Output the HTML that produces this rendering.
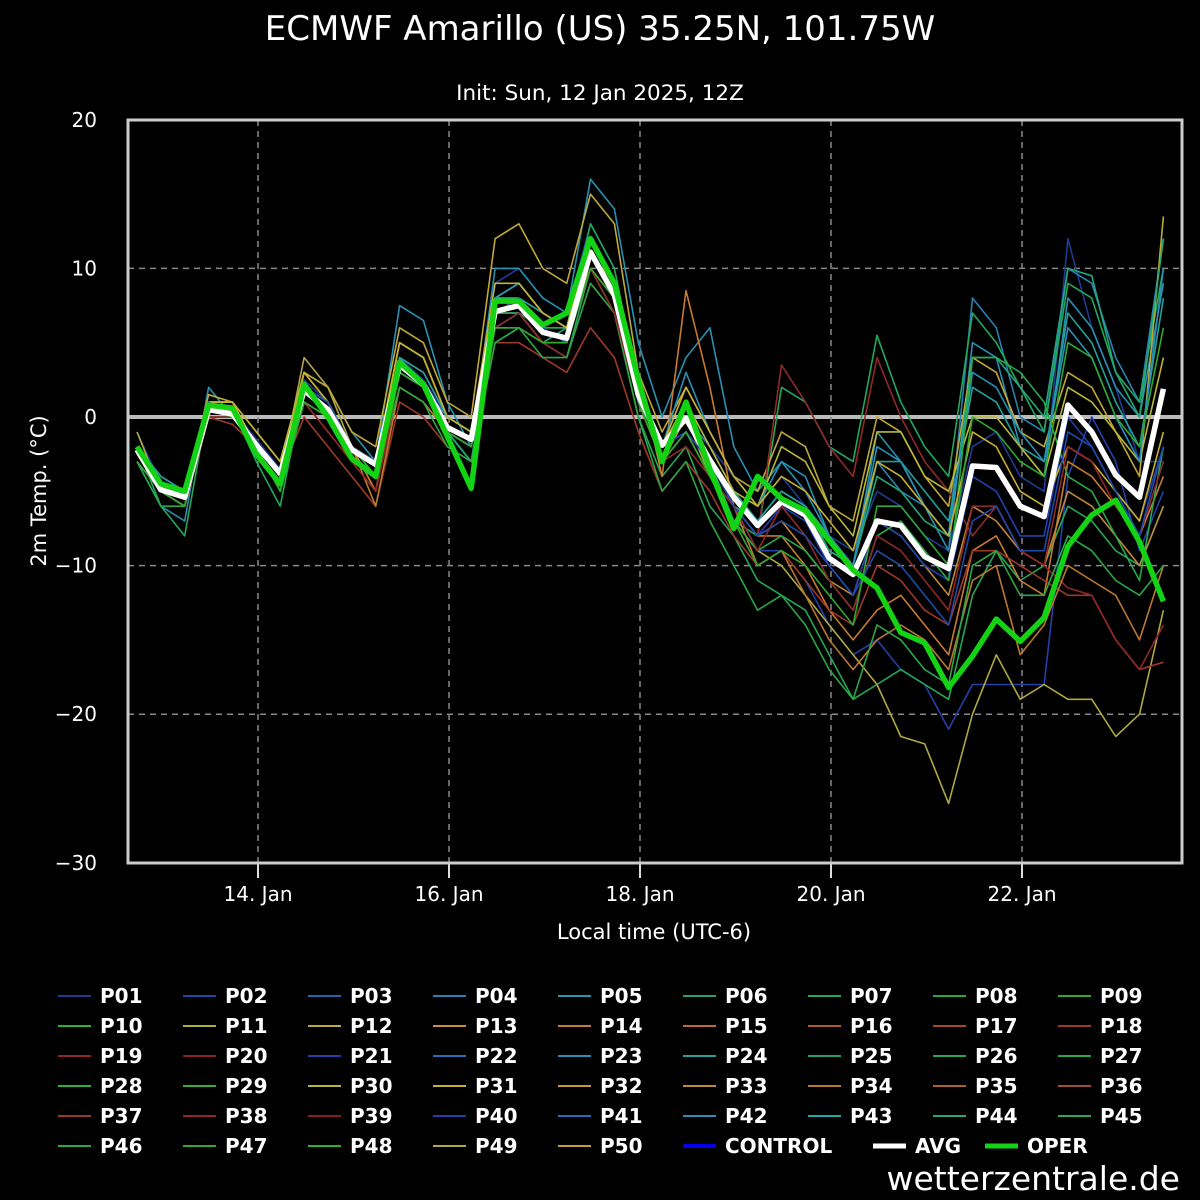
<!DOCTYPE html>
<html><head><meta charset="utf-8"><style>
html,body{margin:0;padding:0;background:#000;}
svg{display:block;font-family:"DejaVu Sans","Liberation Sans",sans-serif;}
</style></head><body>
<svg id="c" width="1200" height="1200" viewBox="0 0 1200 1200">
<rect width="1200" height="1200" fill="#000"/>
<text x="600" y="40" font-size="34" fill="#fff" text-anchor="middle">ECMWF Amarillo (US) 35.25N, 101.75W</text>
<text x="600" y="100" font-size="21.5" fill="#fff" text-anchor="middle">Init: Sun, 12 Jan 2025, 12Z</text>
<text transform="translate(46,491) rotate(-90)" font-size="21" fill="#fff" text-anchor="middle">2m Temp. (°C)</text>
<text x="654" y="939" font-size="21" fill="#fff" text-anchor="middle">Local time (UTC-6)</text>
<text x="1180" y="1190" font-size="33" fill="#fff" text-anchor="end">wetterzentrale.de</text>
<g id="grid"></g><g id="series"></g><g id="axes"></g><g id="legend"></g>
</svg>
<script>
const yTicks=[20,10,0,-10,-20,-30];
const xTickLabels=["14. Jan","16. Jan","18. Jan","20. Jan","22. Jan"];
const avg=[-2.2,-4.9,-5.4,0.5,0.2,-1.9,-3.8,1.8,0.5,-2.2,-3.2,3.5,2.2,-0.7,-1.5,7.1,7.5,5.7,5.3,11.1,8.2,1.5,-1.9,-0.1,-2.9,-5.4,-7.3,-5.7,-6.6,-9.5,-10.6,-7.0,-7.3,-9.4,-10.2,-3.3,-3.4,-6.0,-6.7,0.8,-1.0,-3.9,-5.4,1.9];
const oper=[-2,-4.5,-5,0.8,0.6,-2.5,-4.5,2.2,0,-2.8,-4,3.7,2.2,-1.3,-4.8,7.8,7.8,6.2,7.0,12.0,9,2.5,-3,1,-3.5,-7.5,-4,-5.5,-6.3,-8.3,-10.3,-11.5,-14.5,-15.2,-18.2,-16.1,-13.6,-15.1,-13.5,-8.7,-6.6,-5.6,-8.4,-12.4];
const m01=[-1,-4.5,-5,1,0.5,-1.5,-3.5,2.5,1,-2,-3,4,2.5,0,-1,9,10,8,7,13,10,2,-2,1,-2,-4,-6,-4,-6,-8,-9,-5,-6,-8,-9,-2,-1,-4,-5,12,6,2,-3,-3];
const m02=[-3,-5,-6,0,0,-2,-4,1,0,-3,-4,3,2,-1,-2,6,7,5,5,11,8,1,-2,-1,-3,-6,-9,-9,-11,-14,-16,-15,-17,-18,-21,-18,-18,-18,-18,-4,0,-3,-9,-5];
const m03=[-2,-5,-6,1,0,-2,-4,2,1,-2,-3,3,2,-1,-2,8,8,6,6,12,9,2,-2,0,-2,-5,-7,-5,-6,-9,-10,-3,-5,-6,-8,8,6,0,-1,10,9,4,1,12];
const m04=[-3,-6,-7,2,0,-2,-4,3,2,-1,-3,7.5,6.5,1,-2,10,10,8,7,16,14,5,0,4,6,-2,-5,-3,-4,-8,-10,-1,-3,-6,-9,5,4,-2,-4,8,6,2,0,9];
const m05=[-2,-6,-8,1,0.5,-3,-6,2,1,-2,-5,3,2,-1,-3,7,8,6,6,13,10,2,-3,1,-3,-7,-8,2,1,-2,-3,5.5,1,-2,-4,7,5,2,-1,9,8,3,1,10];
const m06=[-2,-5,-6,0,0,-2,-5,2,0,-2,-4,3,2,-1,-3,6,6,5,4,10,7,0,-4,-2,-6,-8,-11,-12,-13,-16,-19,-18,-17,-18,-19,-12,-9,-11,-10,-6,-7,-9,-10,-6];
const m07=[-1,-5,-6,1,1,-2,-4,4,2,-2,-3,5,4,0,-1,8,9,7,6,12,9,2,-3,0,-4,-7,-9,-10,-12,-14,-16,-18,-21.5,-22,-26,-20,-16,-19,-18,-19,-19,-21.5,-20,-13];
const m08=[-2,-4,-5,1.5,1,-1,-3,3,2,-1,-2,6,5,1,0,12,13,10,9,15,13,3,-1,2,-1,-4,-5,-1,-2,-6,-7,0,-1,-4,-6,4,3,-1,-2,3,2,-1,-4,13.5];
const m09=[-3,-5,-6,1,0,-2,-4,2,1,-2,-5,4,3,0,-1,7,7,6,5,11,9,3,-4,8.5,2,-6,-8,-8,-10,-13,-15,-13,-12,-14,-16,-9,-8,-11,-12,-3,-4,-6,-8,-4];
const m10=[-3,-5,-6,0,-0.5,-2,-4,0,-2,-4,-6,1,0,-2,-3,5,5,4,3,6,4,-1,-5,-3,-5,-8,-10,-9,-11,-13,-14,-10,-11,-13,-14,-9,-9,-10,-11,-12,-12,-15,-17,-16.5];
const m11=[-2,-5,-6,0,0,-2,-4,1,-1,-3,-5,2,1,-1,-2,5,6,5,4,9,7,1,-3,-2,-4,-6,-8,3.5,1,-2,-4,4,0,-3,-5,-8,-6,-9,-10,-11.5,-12,-15,-17,-14];
const m12=[-2,-5,-6,1,1,-2,-4,2,1,-2,-6,2,1,-1,-2,7,8,7,6,10,8,1,-2,0,-3,-6,-10,-9,-12,-15,-17,-15,-14,-15,-17,-11,-10,-16,-14,-10,-11,-12,-15,-10];
const m13=[-2,-5,-6,0.5,0,-2,-5,1,0,-2,-4,3,2,-1,-3,6,7,5,6,12,9,1,-3,-1,-4,-6,-7,-5,-6,-9,-10,-4,-5,-7,-8,4,4,2,0,10,9.5,3,0,12];
const m14=[-2,-5,-6,1,0,-2,-4,2,1,-2,-3,4,3,0,-1,8,8,7,6,12,9,2,-2,0,-3,-5,-7,-5,-6,-8,-10,-3,-3,-5,-7,2,1,-2,-3,7,5,1,-2,8];
const m15=[-2,-5,-5,1,1,-1,-3,3,1,-2,-3,5,4,0,-1,8,9,7,6,11,8,2,-2,1,-2,-5,-6,-2,-3,-6,-8,-1,-1,-4,-5,0,0,-2,-4,2,1,-1,-3,4];
const m16=[-2,-5,-6,0.5,0,-2,-4,2,0,-3,-4,3,2,-1,-2,7,7,5,5,10,8,1,-3,0,-3,-6,-8,-7,-9,-11,-12,-7,-8,-10,-12,-6,-7,-9,-10,-5,-6,-8,-10,-6];
const m17=[-2,-5,-6,0,0,-2,-4,2,0,-2,-3,3,2,-1,-2,7,7,6,5,11,8,1,-2,-1,-3,-6,-8,-6,-7,-10,-12,-7,-8,-10,-11,-4,-5,-8,-8,0,-2,-5,-7,-2];
const m18=[-3,-6,-6,0,0,-2,-5,1,0,-3,-4,2,1,-2,-3,5,6,4,4,9,7,0,-5,-3,-7,-10,-13,-12,-14,-17,-19,-14,-15,-17,-18,-10,-9,-12,-12,-8,-9,-11,-12,-10];
const m19=[-2,-4,-5,1,0,-2,-4,2,1,-2,-4,4,2,0,-1,8,9,7,6,12,9,2,-2,3,-1,-4,-6,-3,-5,-8,-10,-2,-3,-6,-8,3,2,-1,-3,6,4,0,-3,10];
const m20=[-2,-5,-6,0.5,0,-2,-5,2,0,-2,-4,3,2,-1,-2,7,7,6,5,11,8,2,-3,-1,-4,-7,-9,-8,-9,-11,-13,-8,-7,-9,-11,4,4,3,1,-4,-5,-8,-11,-2];
const m21=[-2,-5,-6,1,1,-2,-4,3,1,-2,-3,5,4,0,-1,9,9,7,6,12,9,2,-2,2,-1,-4,-6,-4,-5,-7,-9,-3,-4,-6,-8,-1,-2,-5,-6,-2,-3,-5,-7,-1];
const m22=[-2,-5,-6,0,0,-2,-4,1,-1,-3,-5,3,2,-1,-2,6,7,5,5,10,7,1,-3,-1,-4,-6,-9,-6,-8,-11,-13,-8,-9,-11,-13,-6,-6,-9,-10,-2,-3,-6,-8,-3];
const m23=[-2,-5,-5,1,0,-2,-4,2,1,-2,-3,3,2,-1,-2,7,8,6,5,11,8,1,-2,0,-3,-6,-8,-7,-8,-10,-12,-9,-10,-12,-14,-7,-6,-9,-9,-1,-2,-5,-8,-2];
const m24=[-3,-5,-6,0.5,0,-2,-5,1,0,-2,-4,3,2,-1,-2,6,6,5,5,10,8,1,-3,-1,-4,-7,-10,-9,-10,-12,-14,-6,-6,-8,-10,0,-1,-3,-4,5,4,0,-2,6];
const members=[m01,m02,m03,m04,m05,m06,m07,m08,m09,m10,m11,m12,m13,m14,m15,m16,m17,m18,m19,m20,m21,m22,m23,m24];
const memberNames=["P01","P21","P04","P23","P07","P26","P49","P12","P14","P18","P38","P34","P44","P24","P30","P33","P40","P46","P42","P27","P31","P19","P02","P09"];

const NS="http://www.w3.org/2000/svg";
const X0=137, DX=23.87;
const px=i=>X0+i*DX;
const py=v=>417-v*14.86;
function mk(tag,attrs,parent){const e=document.createElementNS(NS,tag);for(const k in attrs)e.setAttribute(k,attrs[k]);parent.appendChild(e);return e;}
const grid=document.getElementById('grid'),series=document.getElementById('series'),axes=document.getElementById('axes'),legend=document.getElementById('legend');

yTicks.forEach(v=>{
  if(v!==20&&v!==-30){const l=mk('line',{x1:128,x2:1182,y1:py(v),y2:py(v),stroke:'#888','stroke-width':1.5,'stroke-dasharray':'6,5'},grid);
  
  }
  const t=mk('text',{x:97,y:py(v)+7,'font-size':20,fill:'#fff','text-anchor':'end'},axes);t.textContent=v<0?'\u2212'+(-v):String(v);
  
  
});
const z=mk('line',{x1:128,x2:1182,y1:py(0),y2:py(0),stroke:'#bbb','stroke-width':4},grid);


xTickLabels.forEach((lab,k)=>{
  const xx=258+k*191;
  const l=mk('line',{x1:xx,x2:xx,y1:120,y2:863,stroke:'#888','stroke-width':1.5,'stroke-dasharray':'6,5'},grid);
  
  
  const tk=mk('line',{x1:xx,x2:xx,y1:863,y2:878,stroke:'#ddd','stroke-width':2},axes);
  
  
  const t=mk('text',{x:xx,y:901,'font-size':20,fill:'#fff','text-anchor':'middle'},axes);t.textContent=lab;
  
  
});
const fr=mk('rect',{x:128,y:120,width:1054,height:743,fill:'none',stroke:'#ccc','stroke-width':3},axes);



const legendColors=["#1f3a93","#1f4aa8","#2366b0","#2a80b0","#2898a8","#23a07a","#22a85a","#2aa83e","#30a830","#30b030","#b0b040","#c0a838","#c89030","#c87a30","#c06a30","#b05a30","#a84830","#a03828","#902828","#8a2020","#2240a8","#2a6ab8","#2890b0","#22a09a","#22a070","#24a858","#2aa848","#32b032","#36b030","#b8b838","#c8b030","#c89838","#c08838","#b87830","#b06030","#a05030","#983828","#902828","#882020","#2040b0","#2a6cb8","#2890b8","#22a8a8","#22a878","#28a858","#2aa845","#30a838","#30b030","#b0a840","#c0a030"];
const nameIdx=n=>parseInt(n.slice(1))-1;
const lineD=arr=>arr.map((v,i)=>(i?'L':'M')+px(i).toFixed(1)+','+py(v).toFixed(1)).join(' ');
members.forEach((arr,k)=>{
  const p=mk('path',{d:lineD(arr),fill:'none',stroke:legendColors[nameIdx(memberNames[k])],'stroke-width':1.6,'stroke-linejoin':'round'},series);
  
  
});
const pa=mk('path',{d:lineD(avg),fill:'none',stroke:'#fff','stroke-width':5.5,'stroke-linejoin':'round'},series);


const po=mk('path',{d:lineD(oper),fill:'none',stroke:'#14d214','stroke-width':5.5,'stroke-linejoin':'round'},series);



const entries=[];
for(let i=0;i<50;i++){const r=Math.floor(i/9),col=i%9;entries.push({n:'P'+String(i+1).padStart(2,'0'),c:legendColors[i],w:2,x:58+col*125,y:996+r*30});}
entries.push({n:'CONTROL',c:'#0000ee',w:4,x:683,y:1146},{n:'AVG',c:'#fff',w:5,x:873,y:1146},{n:'OPER',c:'#14d214',w:5,x:985,y:1146});
entries.forEach(e=>{
  const g=mk('g',{},legend);
  
  
  mk('line',{x1:e.x,x2:e.x+33,y1:e.y,y2:e.y,stroke:e.c,'stroke-width':e.w},g);
  const t=mk('text',{x:e.x+42,y:e.y+7,'font-size':20,'font-weight':'bold',fill:'#fff'},g);t.textContent=e.n;
});
</script>
</body></html>
